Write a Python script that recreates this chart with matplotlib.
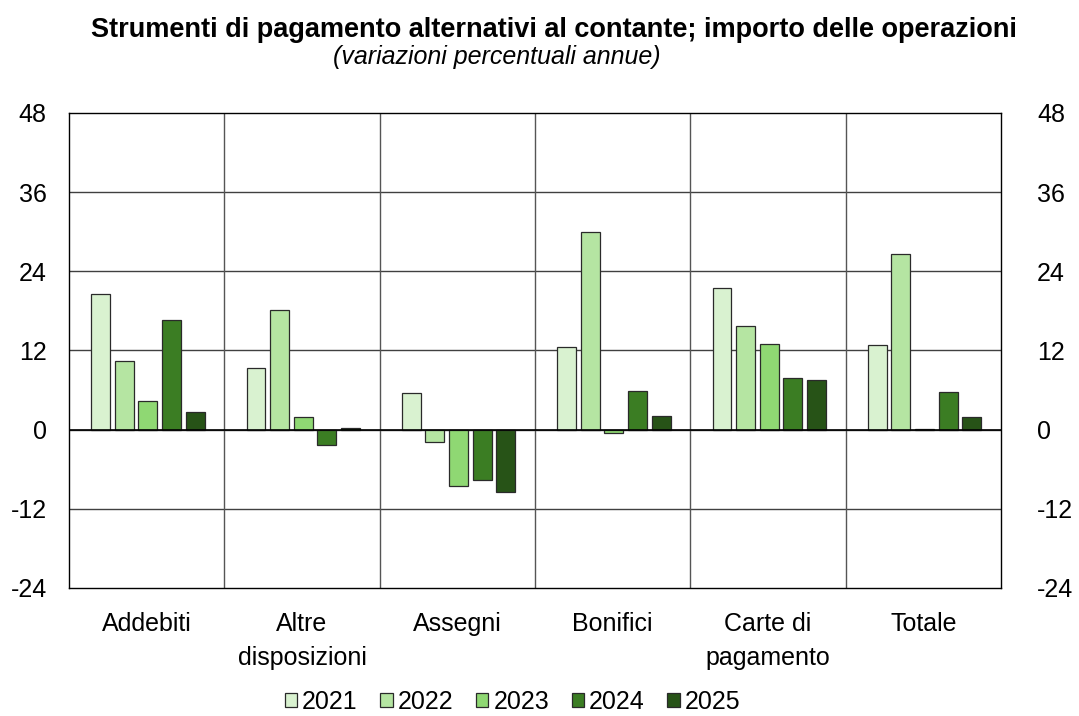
import matplotlib.pyplot as plt
import numpy as np

plt.rcParams['font.family'] = ['Liberation Sans', 'DejaVu Sans']
plt.rcParams['axes.unicode_minus'] = False

categorie = ['Addebiti', 'Altre\ndisposizioni', 'Assegni', 'Bonifici', 'Carte di\npagamento', 'Totale']
anni = ['2021', '2022', '2023', '2024', '2025']
colori = ['#d9f2d0', '#b5e5a2', '#8fd873', '#3b7d23', '#275317']

v2021 = [20.5, 9.4, 5.5, 12.6, 21.4, 12.8]
v2022 = [10.4, 18.2, -1.9, 30.0, 15.7, 26.7]
v2023 = [4.4, 1.9, -8.5, -0.45, 13.0, 0.15]
v2024 = [16.6, -2.3, -7.6, 5.9, 7.9, 5.7]
v2025 = [2.6, 0.25, -9.5, 2.0, 7.5, 1.9]
serie = [v2021, v2022, v2023, v2024, v2025]

fig = plt.figure(figsize=(10.79, 7.16), dpi=100)
ax = fig.add_axes([0.0639, 0.1788, 0.8638, 0.6634])

x = np.arange(len(categorie))
larg = 0.122
passo = 0.152
for i, valori in enumerate(serie):
	ax.bar(x + (i - 2)*passo + 0.008, valori, larg, color=colori[i],
		edgecolor='#2a2a2a', linewidth=0.9, label=anni[i], zorder=3)

ax.set_xlim(-0.5, len(categorie) - 0.5)
ax.set_ylim(-24, 48)
ax.set_yticks(np.arange(-24, 49, 12))
for y in np.arange(-12, 48, 12):
	ax.axhline(y, color='#404040', linewidth=1.0, zorder=1)
ax.axhline(0, color='black', linewidth=1.2, zorder=4)
for xs in np.arange(0.5, len(categorie) - 0.5, 1):
	ax.axvline(xs, color='#555555', linewidth=1.0, zorder=1)

ax.set_xticks(x)
ax.set_xticklabels(categorie, fontsize=18, linespacing=1.55)
ax.tick_params(axis='x', length=0, pad=17)
ax.tick_params(axis='y', length=0, pad=16, labelsize=18)
for s in ax.spines.values():
	s.set_color('black')
	s.set_linewidth(1.0)

ax2 = ax.twinx()
ax2.set_ylim(ax.get_ylim())
ax2.set_yticks(np.arange(-24, 49, 12))
ax2.tick_params(axis='y', length=0, pad=26, labelsize=18)
for s in ax2.spines.values():
	s.set_visible(False)

fig.text(0.513, 0.958, 'Strumenti di pagamento alternativi al contante; importo delle operazioni',
	ha='center', va='center', fontsize=19.5, fontweight='bold')
fig.text(0.4606, 0.921, '(variazioni percentuali annue)', ha='center', va='center',
	fontsize=18, style='italic')

fig.legend(loc='center', bbox_to_anchor=(0.475, 0.02), ncol=5, frameon=False,
	fontsize=18, handlelength=0.5, handleheight=0.5, handletextpad=0.2,
	columnspacing=0.9)

plt.savefig('out.png', dpi=100)
